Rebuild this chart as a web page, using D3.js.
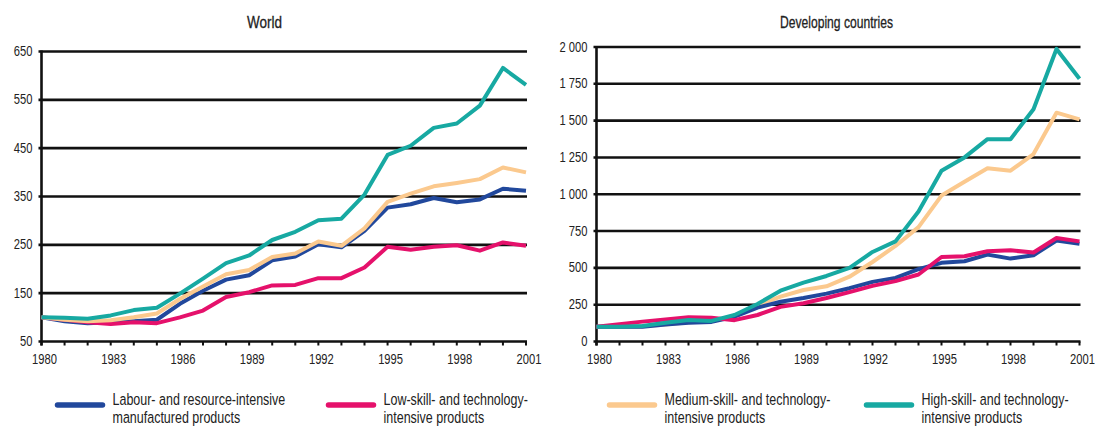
<!DOCTYPE html>
<html>
<head>
<meta charset="utf-8">
<script src="https://cdn.jsdelivr.net/npm/d3@7"></script>
<style>
  body { margin: 0; background: #fff; }
  svg { display: block; font-family: "Liberation Sans", Arial, sans-serif; }
</style>
</head>
<body>
<svg width="1095" height="427"></svg>
<script>
const years = [1980, 1981, 1982, 1983, 1984, 1985, 1986, 1987, 1988, 1989, 1990,
               1991, 1992, 1993, 1994, 1995, 1996, 1997, 1998, 1999, 2000, 2001];
const yearTicks = [1980, 1983, 1986, 1989, 1992, 1995, 1998, 2001];

// World (index 1980 = 100)
const worldLabour = [100, 92, 88, 90, 92, 95, 128, 155, 178, 187, 218, 226, 251, 245, 279, 327, 334, 347, 338, 344, 366, 362];
const worldLow    = [100, 95, 90, 86, 90, 88, 100, 114, 142, 152, 166, 167, 181, 181, 203, 246, 240, 246, 249, 238, 255, 248];
const worldMedium = [100, 95, 92, 94, 100, 108, 138, 164, 189, 198, 225, 232, 257, 248, 284, 339, 356, 371, 378, 386, 410, 400];
const worldHigh   = [100, 99, 97, 104, 115, 120, 149, 180, 212, 228, 260, 277, 301, 304, 354, 436, 455, 492, 501, 538, 616, 581];

// Developing countries
const devLabour = [100, 100, 100, 115, 127, 133, 168, 230, 270, 295, 325, 362, 405, 432, 491, 534, 545, 590, 563, 586, 685, 664];
const devLow    = [100, 118, 135, 150, 165, 162, 145, 180, 235, 260, 295, 335, 378, 410, 455, 574, 579, 613, 619, 604, 703, 680];
const devMedium = [100, 100, 103, 115, 130, 137, 170, 245, 305, 350, 375, 440, 540, 649, 777, 991, 1085, 1176, 1160, 1273, 1554, 1509];
const devHigh   = [100, 100, 105, 128, 146, 140, 180, 255, 345, 400, 445, 500, 608, 680, 883, 1160, 1250, 1374, 1374, 1577, 1987, 1784];

const worldTicks = [50, 150, 250, 350, 450, 550, 650];
const devTicks = [0, 250, 500, 750, 1000, 1250, 1500, 1750, 2000];

const seriesNames = ["Labour", "Low", "Medium", "High"];
const colors = { Labour: "#21489c", Low: "#e5116b", Medium: "#fbc98e", High: "#17a9a2" };
const legendLines = {
  Labour: ["Labour- and resource-intensive", "manufactured products"],
  Low: ["Low-skill- and technology-", "intensive products"],
  Medium: ["Medium-skill- and technology-", "intensive products"],
  High: ["High-skill- and technology-", "intensive products"]
};

const svg = d3.select("svg");

function fmtSpace(v) {
  return d3.format(",")(v).replace(/,/g, " ");
}

// narrow text: regular sans squeezed horizontally
function narrowText(sel, x, y, sx) {
  return sel.attr("transform", (d, i) => {
    const px = typeof x === "function" ? x(d, i) : x;
    const py = typeof y === "function" ? y(d, i) : y;
    return `translate(${px},${py}) scale(${sx},1)`;
  });
}

function drawPanel(opts) {
  const x = d3.scaleLinear().domain([1980, 2001]).range([opts.x0, opts.x1]);
  const y = d3.scaleLinear().domain(opts.domain).range([opts.y0, opts.y1]);
  const g = svg.append("g");

  // title
  g.append("text")
    .attr("x", opts.titleX).attr("y", 28)
    .attr("text-anchor", "middle")
    .attr("font-size", 16.5).attr("fill", "#222")
    .attr("stroke", "#222").attr("stroke-width", 0.3)
    .attr("textLength", opts.titleW).attr("lengthAdjust", "spacingAndGlyphs")
    .text(opts.title);

  // horizontal grid lines + y labels
  g.selectAll("line.grid").data(opts.ticks).enter().append("line")
    .attr("x1", opts.x0 - 3).attr("x2", opts.x1 + 1)
    .attr("y1", d => y(d)).attr("y2", d => y(d))
    .attr("stroke", "#111").attr("stroke-width", 2.6);

  narrowText(g.selectAll("text.ylab").data(opts.ticks).enter().append("text"),
      opts.x0 - 9, d => y(d) + 4.5, 0.8)
    .attr("text-anchor", "end")
    .attr("font-size", 14).attr("fill", "#222")
    .text(d => opts.fmt(d));

  // y axis line
  g.append("line")
    .attr("x1", opts.x0).attr("x2", opts.x0)
    .attr("y1", y(opts.domain[1]) - 1).attr("y2", y(opts.domain[0]) + 4)
    .attr("stroke", "#111").attr("stroke-width", 2.6);

  // x ticks
  g.selectAll("line.xt").data(years).enter().append("line")
    .attr("x1", d => x(d)).attr("x2", d => x(d))
    .attr("y1", y(opts.domain[0])).attr("y2", y(opts.domain[0]) + 4)
    .attr("stroke", "#111").attr("stroke-width", 2);

  narrowText(g.selectAll("text.xlab").data(yearTicks).enter().append("text"),
      d => x(d) + 3, y(opts.domain[0]) + 22.5, 0.8)
    .attr("text-anchor", "middle")
    .attr("font-size", 14).attr("fill", "#222")
    .text(d => d);

  const line = d3.line()
    .x((d, i) => x(years[i]))
    .y(d => y(d));

  opts.series.forEach(s => {
    g.append("path")
      .attr("d", line(s.values))
      .attr("fill", "none")
      .attr("stroke", colors[s.name])
      .attr("stroke-width", 4)
      .attr("stroke-linejoin", "round");
  });
}

drawPanel({
  title: "World", titleX: 264.5, titleW: 35,
  x0: 41.5, x1: 526, y0: 341.5, y1: 51.5,
  domain: [50, 650], ticks: worldTicks, fmt: d => d,
  series: [
    { name: "Labour", values: worldLabour },
    { name: "Low", values: worldLow },
    { name: "Medium", values: worldMedium },
    { name: "High", values: worldHigh }
  ]
});

drawPanel({
  title: "Developing countries", titleX: 836.5, titleW: 113,
  x0: 596.5, x1: 1079.5, y0: 341.5, y1: 47,
  domain: [0, 2000], ticks: devTicks, fmt: fmtSpace,
  series: [
    { name: "Medium", values: devMedium },
    { name: "Labour", values: devLabour },
    { name: "Low", values: devLow },
    { name: "High", values: devHigh }
  ]
});

// legend
const legendX = { Labour: 55, Low: 326, Medium: 607, High: 864 };
const legend = svg.append("g");
seriesNames.forEach(name => {
  const lx = legendX[name];
  legend.append("line")
    .attr("x1", lx + 2.5).attr("x2", lx + 47.5)
    .attr("y1", 405).attr("y2", 405)
    .attr("stroke", colors[name]).attr("stroke-width", 5.5)
    .attr("stroke-linecap", "round");
  legendLines[name].forEach((t, i) => {
    narrowText(legend.append("text"), lx + 57.5, 404.5 + i * 18.5, 0.735)
      .attr("font-size", 17).attr("fill", "#222")
      .text(t);
  });
});
</script>
</body>
</html>
